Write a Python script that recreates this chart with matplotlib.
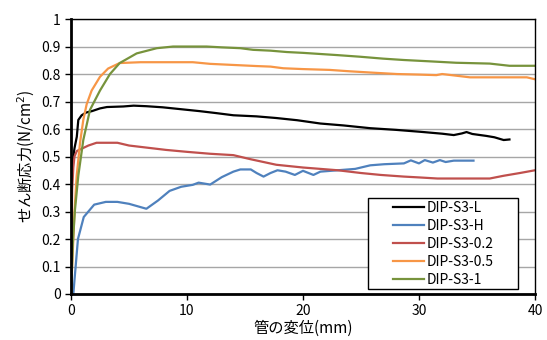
import matplotlib
matplotlib.use('Agg')
import matplotlib.pyplot as plt
from matplotlib.patches import Rectangle

plt.rcParams['font.family'] = ['Noto Sans CJK JP', 'DejaVu Sans']

# DIP-S3-L
x_l = [0, 0.05, 0.1, 0.2, 0.3, 0.5, 0.63, 0.92, 1.3, 1.8, 2.5, 3.1, 4.5, 5.4, 6.5, 7.9, 9.5,
       11.1, 12.5, 14, 16, 17.7, 19.5, 21.5, 23.5, 25.8, 28, 30.1, 32, 33, 33.7, 34.1, 34.6,
       35.8, 36.5, 37.3, 37.8]
y_l = [0, 0.35, 0.46, 0.5, 0.53, 0.572, 0.633, 0.65, 0.66, 0.665, 0.675, 0.68, 0.682, 0.685,
       0.683, 0.679, 0.672, 0.665, 0.658, 0.65, 0.646, 0.64, 0.632, 0.62, 0.613, 0.603, 0.597,
       0.59, 0.583, 0.578, 0.584, 0.589, 0.582, 0.575, 0.57, 0.56, 0.562]

# DIP-S3-H
x_h = [0.2, 0.4, 0.6, 1.1, 1.5, 2, 3, 4, 5, 6, 6.5, 7.5, 8.5, 9.5, 10.5, 11, 12, 13, 14,
       14.6, 15.5, 16, 16.6, 17.2, 17.8, 18.5, 19.3, 20, 20.9, 21.5, 23, 24.5, 25.8, 27, 28.7,
       29.3, 30, 30.5, 31.2, 31.8, 32.3, 33, 34.7]
y_h = [0, 0.1, 0.2, 0.28, 0.3, 0.325, 0.335, 0.335, 0.328, 0.316, 0.31, 0.34, 0.375, 0.39,
       0.397, 0.405, 0.398, 0.425, 0.445, 0.453, 0.453, 0.44, 0.427, 0.44, 0.45, 0.445, 0.433,
       0.448, 0.433, 0.445, 0.45, 0.455, 0.468, 0.472, 0.475, 0.486, 0.475, 0.487, 0.478,
       0.487, 0.48, 0.485, 0.485]

# DIP-S3-0.2
x_02 = [0, 0.05, 0.1, 0.2, 0.3, 0.5, 1, 1.5, 2.2, 4, 5, 6, 7, 8.2, 10, 12, 14, 15.5, 17.7,
        20, 23, 25, 26.7, 28.7, 30, 31.6, 33, 36.1, 37.3, 38.7, 40]
y_02 = [0, 0.25, 0.38, 0.46, 0.5, 0.52, 0.53, 0.54, 0.55, 0.55, 0.54, 0.535, 0.53, 0.524,
        0.517, 0.51, 0.505, 0.49, 0.47, 0.46, 0.45, 0.44, 0.433, 0.427, 0.424, 0.42, 0.42,
        0.42, 0.43, 0.44, 0.45]

# DIP-S3-0.5
x_05 = [0, 0.15, 0.3, 0.49, 0.78, 1.06, 1.35, 1.78, 2.5, 3.2, 4.2, 6, 8, 10.5, 12, 14, 16,
        17.2, 18.3, 20, 22.3, 24, 26, 28.1, 30, 31.5, 32, 34.4, 37, 39.3, 40]
y_05 = [0, 0.15, 0.3, 0.43, 0.55, 0.633, 0.69, 0.74, 0.79, 0.82, 0.84, 0.843, 0.843, 0.843,
        0.837, 0.833, 0.829, 0.827, 0.821, 0.818, 0.815, 0.81, 0.805, 0.8, 0.798, 0.796, 0.8,
        0.788, 0.788, 0.788, 0.781]

# DIP-S3-1
x_1 = [0, 0.15, 0.34, 0.63, 1.06, 1.64, 2.5, 3.36, 4.2, 5.66, 7.4, 8.8, 11.7, 13, 14.6, 15.7,
       17.2, 18.6, 20, 22.9, 24.9, 26.9, 28.7, 31, 33.2, 36.1, 37.8, 40]
y_1 = [0, 0.18, 0.305, 0.43, 0.56, 0.67, 0.74, 0.80, 0.84, 0.875, 0.894, 0.9, 0.9, 0.897,
       0.894, 0.888, 0.885, 0.88, 0.877, 0.869, 0.863, 0.856, 0.851, 0.846, 0.841, 0.838,
       0.83, 0.83]

fig = plt.figure(figsize=(5.47, 3.4), dpi=100)
ax = fig.add_axes([0.1298, 0.1353, 0.978 - 0.1298, 0.944 - 0.1353])

ax.plot(x_l, y_l, color='black', lw=1.6, label='DIP-S3-L')
ax.plot(x_h, y_h, color='#4F81BD', lw=1.6, label='DIP-S3-H')
ax.plot(x_02, y_02, color='#C0504D', lw=1.6, label='DIP-S3-0.2')
ax.plot(x_05, y_05, color='#F79646', lw=1.6, label='DIP-S3-0.5')
ax.plot(x_1, y_1, color='#77933C', lw=1.6, label='DIP-S3-1')

ax.set_xlim(0, 40)
ax.set_ylim(0, 1)
ax.set_xticks([0, 10, 20, 30, 40])
ax.set_yticks([i / 10 for i in range(11)])
ax.set_yticklabels(['0', '0.1', '0.2', '0.3', '0.4', '0.5', '0.6', '0.7', '0.8', '0.9', '1'])
ax.yaxis.grid(True, color='#a6a6a6', lw=1)
ax.set_axisbelow(True)
ax.tick_params(labelsize=10, length=4, width=1, direction='out')

ax.spines['left'].set_linewidth(2)
ax.spines['bottom'].set_linewidth(2)
ax.spines['top'].set_linewidth(1)
ax.spines['right'].set_linewidth(1)

ax.set_xlabel('管の変位(mm)', fontsize=11, labelpad=1)
ax.set_ylabel('せん断応力(N/cm$^{2}$)', fontsize=11, labelpad=3)

# legend box like Excel: wide frame with padding, entries placed inside
frame = Rectangle((0.640, 0.018), 0.323, 0.331, transform=ax.transAxes,
                  facecolor='white', edgecolor='black', lw=1, zorder=4)
ax.add_patch(frame)
leg = ax.legend(loc='center left', bbox_to_anchor=(0.694, 0.182), fontsize=10,
                frameon=False, handlelength=2.2, labelspacing=0.3, borderpad=0,
                borderaxespad=0, handletextpad=0.25)
leg.set_zorder(5)

fig.savefig('out.png', dpi=100)
